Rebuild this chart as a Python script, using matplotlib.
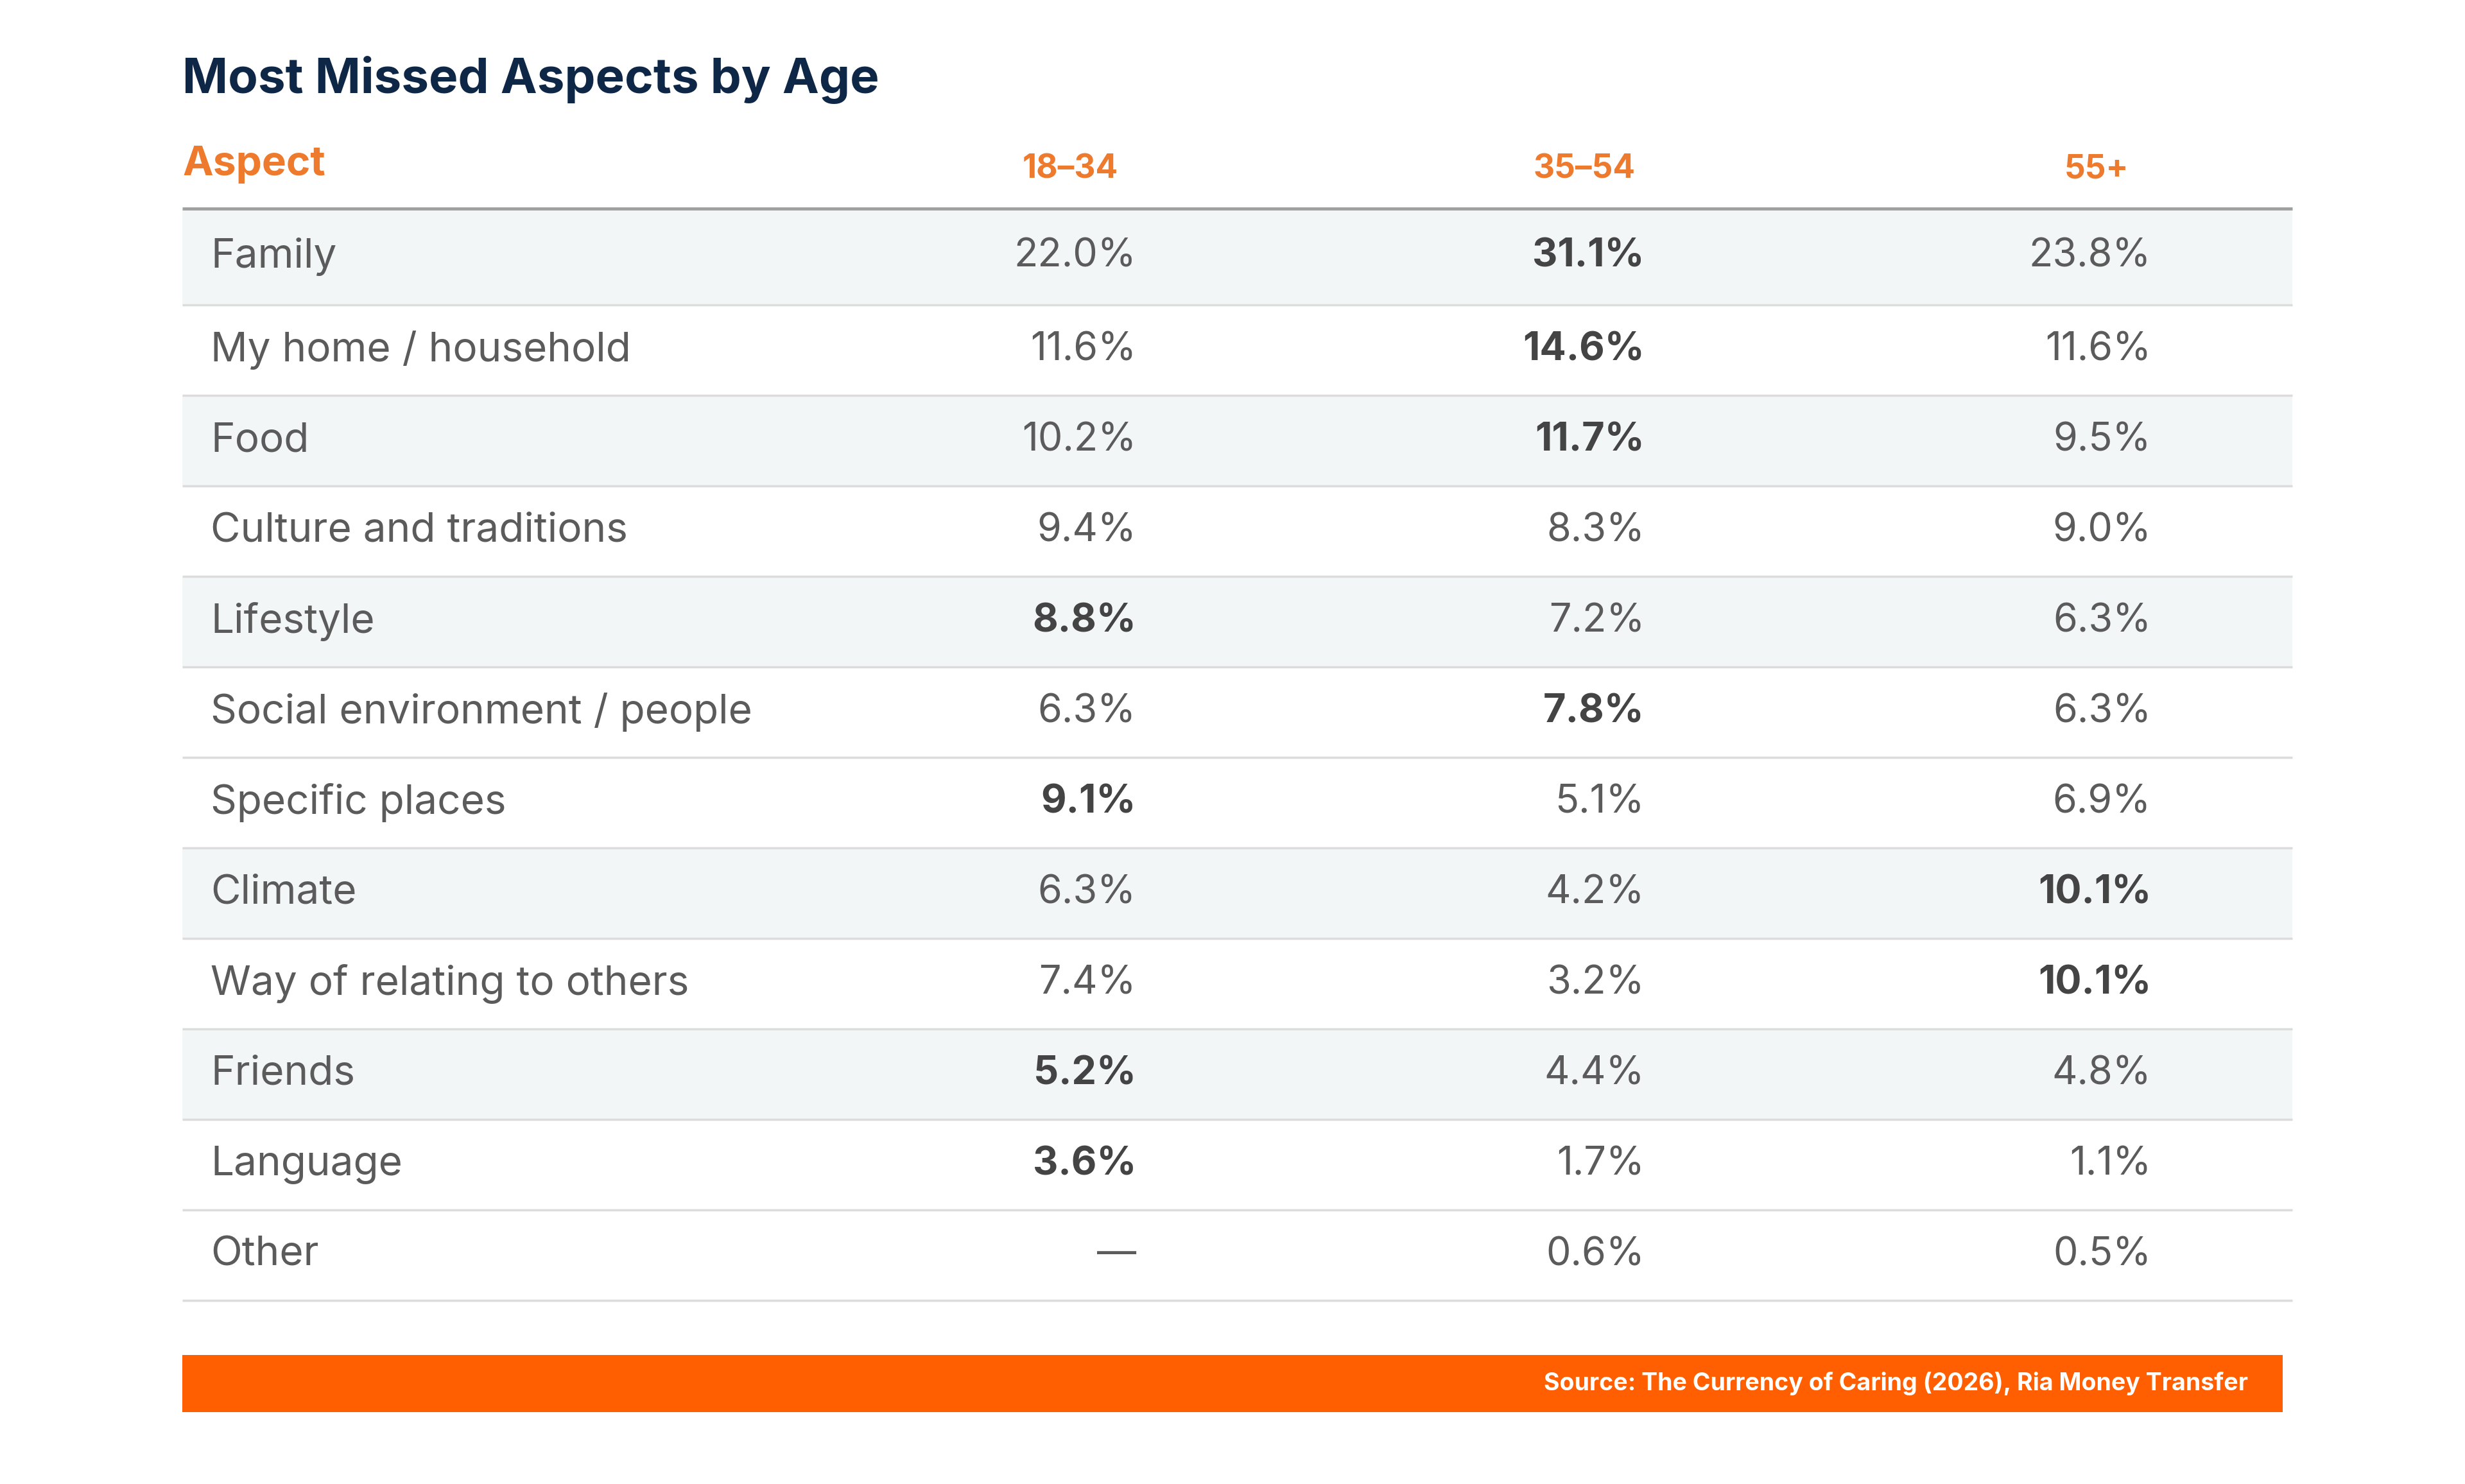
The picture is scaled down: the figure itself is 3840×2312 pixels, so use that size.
import matplotlib.pyplot as plt
from matplotlib.patches import Rectangle

plt.rcParams['font.family'] = ['Inter', 'DejaVu Sans']

# Data
title = "Most Missed Aspects by Age"
aspects = ["Family", "My home / household", "Food", "Culture and traditions",
           "Lifestyle", "Social environment / people", "Specific places",
           "Climate", "Way of relating to others", "Friends", "Language", "Other"]
age_groups = ["18–34", "35–54", "55+"]
val_18_34 = [22.0, 11.6, 10.2, 9.4, 8.8, 6.3, 9.1, 6.3, 7.4, 5.2, 3.6, None]
val_35_54 = [31.1, 14.6, 11.7, 8.3, 7.2, 7.8, 5.1, 4.2, 3.2, 4.4, 1.7, 0.6]
val_55_plus = [23.8, 11.6, 9.5, 9.0, 6.3, 6.3, 6.9, 10.1, 10.1, 4.8, 1.1, 0.5]
# which column is printed in bold for each row (-1 = none)
bold_col = [1, 1, 1, -1, 0, 1, 0, 2, 2, 0, 0, -1]
shaded_rows = [0, 2, 4, 7, 9]
source = "Source: The Currency of Caring (2026), Ria Money Transfer"

columns = [val_18_34, val_35_54, val_55_plus]

# Layout (pixels)
W, H = 3840, 2312
left, right = 284, 3571
top_line = 325
first_row_h = 150
row_h = 141
label_x = 328
value_right = [1770, 2562, 3351]
header_cx = [1667, 2468, 3266]

NAVY = "#0f2747"
ORANGE = "#ee7a2e"
TEXT = "#5b5b5b"
BOLD_TEXT = "#444444"
SHADE = "#f3f6f7"
GRID = "#dcdcdc"
BAR = "#ff5f00"

fig = plt.figure(figsize=(W / 100, H / 100), dpi=100)
ax = fig.add_axes([0, 0, 1, 1])
ax.set_xlim(0, W)
ax.set_ylim(H, 0)
ax.axis('off')

# title and header
ax.text(left, 124, title, fontsize=55, fontweight='bold', color=NAVY,
        ha='left', va='center')
ax.text(left, 257, "Aspect", fontsize=46, fontweight='bold', color=ORANGE,
        ha='left', va='center')
for cx, g in zip(header_cx, age_groups):
    ax.text(cx, 264, g, fontsize=37, fontweight='bold', color=ORANGE,
            ha='center', va='center')

# rows
y0 = top_line
for i, name in enumerate(aspects):
    h = first_row_h if i == 0 else row_h
    yc = y0 + h / 2
    if i in shaded_rows:
        ax.add_patch(Rectangle((left, y0), right - left, h,
                               facecolor=SHADE, edgecolor='none', zorder=0))
    ax.plot([left, right], [y0 + h, y0 + h], color=GRID, lw=2.5,
            zorder=1, solid_capstyle='butt')
    ax.text(label_x, yc, name, fontsize=46, color=TEXT, ha='left', va='center')
    for j, col in enumerate(columns):
        v = col[i]
        txt = "—" if v is None else f"{v:.1f}%"
        is_bold = bold_col[i] == j
        ax.text(value_right[j], yc, txt, fontsize=44,
                fontweight='bold' if is_bold else 'normal',
                color=BOLD_TEXT if is_bold else TEXT,
                ha='right', va='center')
    y0 += h

ax.plot([left, right], [top_line, top_line], color="#a0a0a0", lw=3.5,
        zorder=2, solid_capstyle='butt')

# footer bar
ax.add_patch(Rectangle((left, 2111), 3556 - left, 89, facecolor=BAR,
                       edgecolor='none'))
ax.text(3502, 2155, source, fontsize=27, fontweight='bold', color='white',
        ha='right', va='center')

fig.savefig("out.png", dpi=100, facecolor='white')
